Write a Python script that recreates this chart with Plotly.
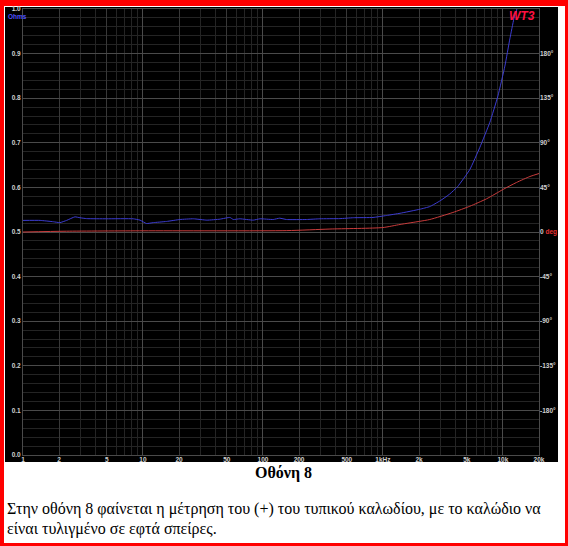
"""
Impedance / phase sweep screenshot (WT3 style) rebuilt with plotly.
"""
import plotly.graph_objects as go

W, H = 568, 546
# plot area in pixels
PL, PR, PT, PB = 23, 539, 9, 455

# impedance curve (Ohms, left axis)
ohm_freq = [1, 1.39, 1.79, 2.03, 2.31, 2.71, 2.98, 3.39, 4.98, 8.3, 9.45,
            10.7, 12.2, 15.7, 20.3, 26.3, 34.1, 43.8, 53.1, 56.6, 64.3, 83.0,
            94.4, 121.7, 138, 157, 230, 298, 438, 567, 827, 1070, 1390, 2030,
            2460, 3000, 3600, 4200, 5300, 6430, 7790, 9090, 10390, 11430,
            12350, 13080, 13800]
ohm_vals = [0.526, 0.526, 0.523, 0.521, 0.526, 0.534, 0.532, 0.530, 0.5296,
            0.5296, 0.5266, 0.519, 0.521, 0.5236, 0.528, 0.5296, 0.5266,
            0.5288, 0.5326, 0.528, 0.5296, 0.5266, 0.5296, 0.528, 0.531,
            0.528, 0.528, 0.5296, 0.530, 0.532, 0.5326, 0.537, 0.542, 0.551,
            0.557, 0.570, 0.585, 0.602, 0.640, 0.690, 0.746, 0.805, 0.872,
            0.933, 0.978, 1.0, 1.03]

# phase curve (degrees, right axis)
deg_freq = [1, 2.3, 10, 158, 362, 1000, 1390, 2030, 2460, 3830, 5300, 7310,
            10060, 13000, 16800, 20000]
deg_vals = [0, 0.8, 1.2, 1.4, 3.0, 4.5, 7.6, 10.8, 12.6, 19.7, 26, 33.5,
            43, 50, 56, 59]

x_tickvals = [1, 2, 5, 10, 20, 50, 100, 200, 500, 1000, 2000, 5000, 10000, 20000]
x_ticktext = ['1', '2', '5', '10', '20', '50', '100', '200', '500', '1kHz',
              '2k', '5k', '10k', '20k']
x_minor = [m * d for d in (1, 10, 100, 1000) for m in (3, 4, 6, 7, 8, 9)]
x_decades = [1, 10, 100, 1000, 10000]

y_tickvals = [0.0, 0.1, 0.2, 0.3, 0.4, 0.5, 0.6, 0.7, 0.8, 0.9, 1.0]
deg_tickvals = [-180, -135, -90, -45, 0, 45, 90, 135, 180]
deg_ticktext = ['-180°', '-135°', '-90°', '-45°',
                "0 <span style='color:#e83030'>deg</span>",
                '45°', '90°', '135°', '180°']

LABEL_FONT = dict(family='Liberation Sans', size=6.5, color='#d0d0d0', weight='bold')
DIM = '#242424'
MID = '#383838'
BRIGHT = '#4a4a4a'


def px2x(px):
    return (px - PL) / (PR - PL)


def py2y(py):
    return (PB - py) / (PB - PT)


fig = go.Figure()

fig.add_trace(go.Scatter(
    x=ohm_freq, y=ohm_vals, mode='lines',
    line=dict(color='#3c3cd0', width=1, shape='spline', smoothing=0.4), name='Ohms'
))
fig.add_trace(go.Scatter(
    x=deg_freq, y=deg_vals, mode='lines', xaxis='x2', yaxis='y2',
    line=dict(color='#c83c3c', width=1, shape='spline', smoothing=0.6), name='deg'
))

# page frame: red border, white page, black screenshot area
fig.add_shape(type='rect', xref='paper', yref='paper', layer='below',
              x0=px2x(0), x1=px2x(W), y0=py2y(H), y1=py2y(0),
              fillcolor='#ff0000', line_width=0)
fig.add_shape(type='rect', xref='paper', yref='paper', layer='below',
              x0=px2x(4), x1=px2x(565), y0=py2y(543), y1=py2y(6),
              fillcolor='white', line_width=0)
fig.add_shape(type='rect', xref='paper', yref='paper', layer='below',
              x0=px2x(5), x1=px2x(558), y0=py2y(462), y1=py2y(7),
              fillcolor='black', line_width=0)

fig.add_annotation(text='Ohms', xref='paper', yref='paper', x=px2x(6), y=py2y(16),
                   xanchor='left', yanchor='middle', showarrow=False,
                   font=dict(family='Liberation Sans', size=6.5, color='#5050ff', weight='bold'))
fig.add_annotation(text='<i>WT3</i>', xref='paper', yref='paper', x=px2x(537), y=py2y(16),
                   xanchor='right', yanchor='middle', showarrow=False,
                   font=dict(family='Liberation Sans', size=12, color='#ff1040', weight='bold'))
fig.add_annotation(text='Οθόνη 8', xref='paper', yref='paper', x=px2x(283), y=py2y(473),
                   xanchor='center', yanchor='middle', showarrow=False,
                   font=dict(family='Liberation Serif', size=16, color='black', weight='bold'))
fig.add_annotation(text='Στην οθόνη 8 φαίνεται η μέτρηση του (+) του τυπικού καλωδίου, με το καλώδιο να',
                   xref='paper', yref='paper', x=px2x(5), y=py2y(509),
                   xanchor='left', yanchor='middle', showarrow=False,
                   font=dict(family='Liberation Serif', size=16, color='black'))
fig.add_annotation(text='είναι τυλιγμένο σε εφτά σπείρες.',
                   xref='paper', yref='paper', x=px2x(5), y=py2y(529),
                   xanchor='left', yanchor='middle', showarrow=False,
                   font=dict(family='Liberation Serif', size=16, color='black'))

fig.update_layout(
    width=W, height=H, autosize=False,
    margin=dict(l=PL, r=W - PR, t=PT, b=H - PB, pad=0),
    paper_bgcolor='white',
    plot_bgcolor='rgba(0,0,0,0)',
    showlegend=False,
    xaxis=dict(
        type='log', range=[0, 4.30103], automargin=False,
        tickmode='array', tickvals=x_tickvals, ticktext=x_ticktext,
        tickfont=LABEL_FONT, ticks='', ticklabelstandoff=-2,
        showgrid=True, gridcolor=MID, gridwidth=1,
        minor=dict(tickmode='array', tickvals=x_minor, showgrid=True, gridcolor=DIM, ticks=''),
        showline=True, linecolor=BRIGHT, mirror=True, zeroline=False,
    ),
    xaxis2=dict(
        type='log', range=[0, 4.30103], overlaying='x', automargin=False,
        tickmode='array', tickvals=x_decades, showticklabels=False, ticks='',
        showgrid=True, gridcolor=BRIGHT, zeroline=False,
    ),
    yaxis=dict(
        range=[0, 1], automargin=False,
        tickmode='array', tickvals=y_tickvals, tickformat='.1f',
        tickfont=LABEL_FONT, ticks='', showgrid=True, gridcolor=BRIGHT,
        minor=dict(dtick=0.02, tick0=0, showgrid=True, gridcolor=DIM, ticks=''),
        showline=True, linecolor=BRIGHT, mirror=True, zeroline=False,
    ),
    yaxis2=dict(
        range=[-225, 225], overlaying='y', side='right', anchor='x2', automargin=False,
        tickmode='array', tickvals=deg_tickvals, ticktext=deg_ticktext,
        tickfont=LABEL_FONT, ticks='', showgrid=False, zeroline=False,
    ),
)

# the page body has an 8px default margin; drop it so the figure sits at 0,0
fig.write_html("out.html", config={'displayModeBar': False},
               post_script="document.body.style.margin = '0';")
